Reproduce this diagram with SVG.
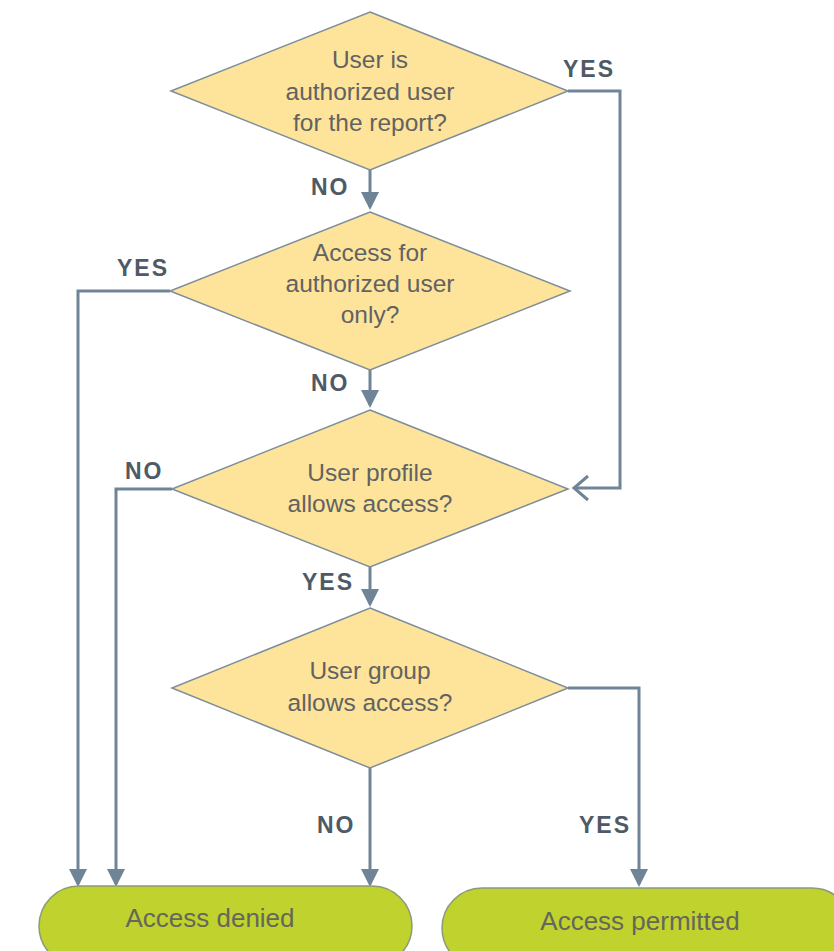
<svg xmlns="http://www.w3.org/2000/svg" width="834" height="951" viewBox="0 0 834 951">
<style>
.dia{fill:#FDE49A;stroke:#7D8D9B;stroke-width:1.5}
.term{fill:#BFD22E;stroke:#8C9A7A;stroke-width:1.5}
.t{font-family:"Liberation Sans",Arial,sans-serif;font-size:24.5px;fill:#626262;text-anchor:middle}
.tt{font-family:"Liberation Sans",Arial,sans-serif;font-size:26px;fill:#66665C;text-anchor:middle}
.lbl{font-family:"Liberation Sans",Arial,sans-serif;font-size:23px;font-weight:bold;fill:#4E5A66;letter-spacing:2px}
.ln{fill:none;stroke:#6F8597;stroke-width:3}
</style>
<defs>
<marker id="ah" markerWidth="6" markerHeight="6" refX="5" refY="3" orient="auto" markerUnits="strokeWidth">
<path d="M0,0 L6,3 L0,6 Z" fill="#6F8597"/>
</marker>
</defs>
<rect width="834" height="951" fill="#FFFFFF"/>
<g id="connectors">
<polyline class="ln" points="568,91 620,91 620,488 576,488"/>
<polyline class="ln" points="588,476 574,488 588,500"/>
<line class="ln" x1="370" y1="170" x2="370" y2="207" marker-end="url(#ah)"/>
<polyline class="ln" points="170,291 78,291 78,884" marker-end="url(#ah)"/>
<line class="ln" x1="370" y1="370" x2="370" y2="405" marker-end="url(#ah)"/>
<polyline class="ln" points="172,489 116,489 116,884" marker-end="url(#ah)"/>
<line class="ln" x1="370" y1="567" x2="370" y2="604" marker-end="url(#ah)"/>
<line class="ln" x1="370" y1="768" x2="370" y2="884" marker-end="url(#ah)"/>
<polyline class="ln" points="568,688 639,688 639,884" marker-end="url(#ah)"/>
<text class="lbl" x="563" y="77">YES</text>
<text class="lbl" x="311" y="195">NO</text>
<text class="lbl" x="117" y="276">YES</text>
<text class="lbl" x="311" y="391">NO</text>
<text class="lbl" x="125" y="479">NO</text>
<text class="lbl" x="302" y="590">YES</text>
<text class="lbl" x="317" y="833">NO</text>
<text class="lbl" x="579" y="833">YES</text>
</g>
<g id="d1">
<polygon class="dia" points="370,12 568,91 370,170 171,91"/>
<text class="t" x="370" y="68">User is</text>
<text class="t" x="370" y="100">authorized user</text>
<text class="t" x="370" y="131">for the report?</text>
</g>
<g id="d2">
<polygon class="dia" points="370,212 570,291 370,370 170,291"/>
<text class="t" x="370" y="261">Access for</text>
<text class="t" x="370" y="292">authorized user</text>
<text class="t" x="370" y="323">only?</text>
</g>
<g id="d3">
<polygon class="dia" points="370,410 568,489 370,567 172,489"/>
<text class="t" x="370" y="481">User profile</text>
<text class="t" x="370" y="512">allows access?</text>
</g>
<g id="d4">
<polygon class="dia" points="370,608 568,688 370,768 172,688"/>
<text class="t" x="370" y="679">User group</text>
<text class="t" x="370" y="711">allows access?</text>
</g>
<g id="denied">
<rect class="term" x="39" y="886" width="373" height="80" rx="40" ry="40"/>
<text class="tt" x="210" y="927">Access denied</text>
</g>
<g id="permitted">
<rect class="term" x="442" y="888" width="410" height="80" rx="40" ry="40"/>
<text class="tt" x="640" y="930">Access permitted</text>
</g>
</svg>
